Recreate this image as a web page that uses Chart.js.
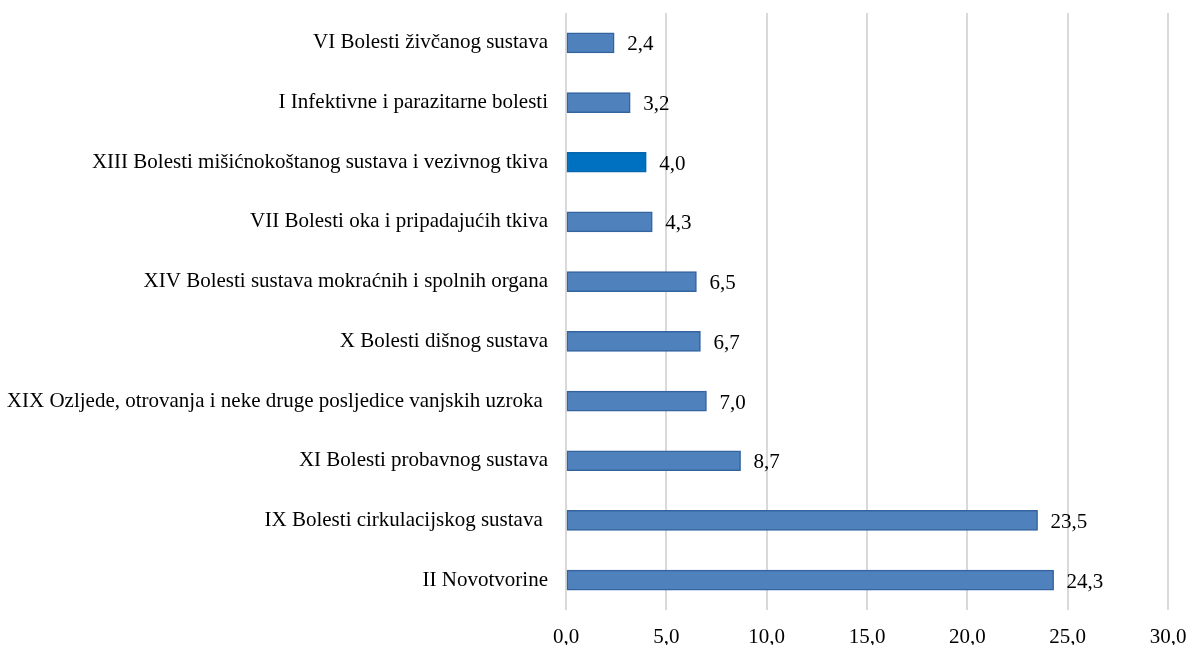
<!DOCTYPE html>
<html>
<head>
<meta charset="utf-8">
<script src="https://cdn.jsdelivr.net/npm/chart.js@4/dist/chart.umd.min.js"></script>
<style>
  html, body { margin: 0; padding: 0; background: #fff; overflow: hidden; }
  #wrap { width: 1189px; height: 645px; position: relative; }
</style>
</head>
<body>
<div id="wrap"><canvas id="chart"></canvas></div>
<script>
// categories, top to bottom
const categories = [
  'VI Bolesti živčanog sustava',
  'I Infektivne i parazitarne bolesti',
  'XIII Bolesti mišićnokoštanog sustava i vezivnog tkiva',
  'VII Bolesti oka i pripadajućih tkiva',
  'XIV Bolesti sustava mokraćnih i spolnih organa',
  'X Bolesti dišnog sustava',
  'XIX Ozljede, otrovanja i neke druge posljedice vanjskih uzroka ',
  'XI Bolesti probavnog sustava',
  'IX Bolesti cirkulacijskog sustava ',
  'II Novotvorine'
];
const values = [2.4, 3.2, 4.0, 4.3, 6.5, 6.7, 7.0, 8.7, 23.5, 24.3];
const xTicks = [0, 5, 10, 15, 20, 25, 30];

const FONT = '"Liberation Serif", "Times New Roman", serif';
const fmt = v => v.toFixed(1).replace('.', ',');

// highlighted bar is XIII
const fills = categories.map((c, i) => i === 2 ? '#0070c0' : '#4f81bd');
const borders = categories.map((c, i) => i === 2 ? '#0566ad' : '#3464a0');

// value labels just past the bar end
const valueLabels = {
  id: 'valueLabels',
  afterDatasetsDraw(chart) {
    const ctx = chart.ctx;
    const meta = chart.getDatasetMeta(0);
    ctx.save();
    ctx.font = '21px ' + FONT;
    ctx.fillStyle = '#000';
    ctx.textAlign = 'left';
    ctx.textBaseline = 'middle';
    meta.data.forEach((bar, i) => {
      ctx.fillText(fmt(values[i]), bar.x + 13, bar.y + 2);
    });
    ctx.restore();
  }
};

new Chart(document.getElementById('chart'), {
  type: 'bar',
  data: {
    labels: categories,
    datasets: [{
      data: values,
      backgroundColor: fills,
      borderColor: borders,
      borderWidth: 1.5,
      borderSkipped: false,
      barThickness: 20
    }]
  },
  options: {
    indexAxis: 'y',
    responsive: true,
    maintainAspectRatio: false,
    animation: false,
    layout: { padding: { top: 13, right: 0, left: 0, bottom: 0 } },
    plugins: {
      legend: { display: false },
      tooltip: { enabled: false }
    },
    scales: {
      x: {
        min: 0,
        max: 30,
        afterBuildTicks(scale) { scale.ticks = xTicks.map(v => ({ value: v })); },
        afterFit(scale) {
          scale.height = 35;
          scale.paddingLeft = 0;
          scale.paddingRight = 21;
        },
        grid: { color: '#d9d9d9', lineWidth: 2, drawTicks: false },
        border: { display: false },
        ticks: {
          color: '#000',
          padding: 15,
          font: { family: FONT, size: 21 },
          callback: v => fmt(v)
        }
      },
      y: {
        afterFit(scale) {
          scale.width = 566;
          scale.paddingTop = 0;
          scale.paddingBottom = 0;
        },
        grid: { display: false, drawTicks: false },
        border: { display: false },
        ticks: {
          color: '#000',
          padding: 18,
          font: { family: FONT, size: 21 }
        }
      }
    }
  },
  plugins: [valueLabels]
});
</script>
</body>
</html>
